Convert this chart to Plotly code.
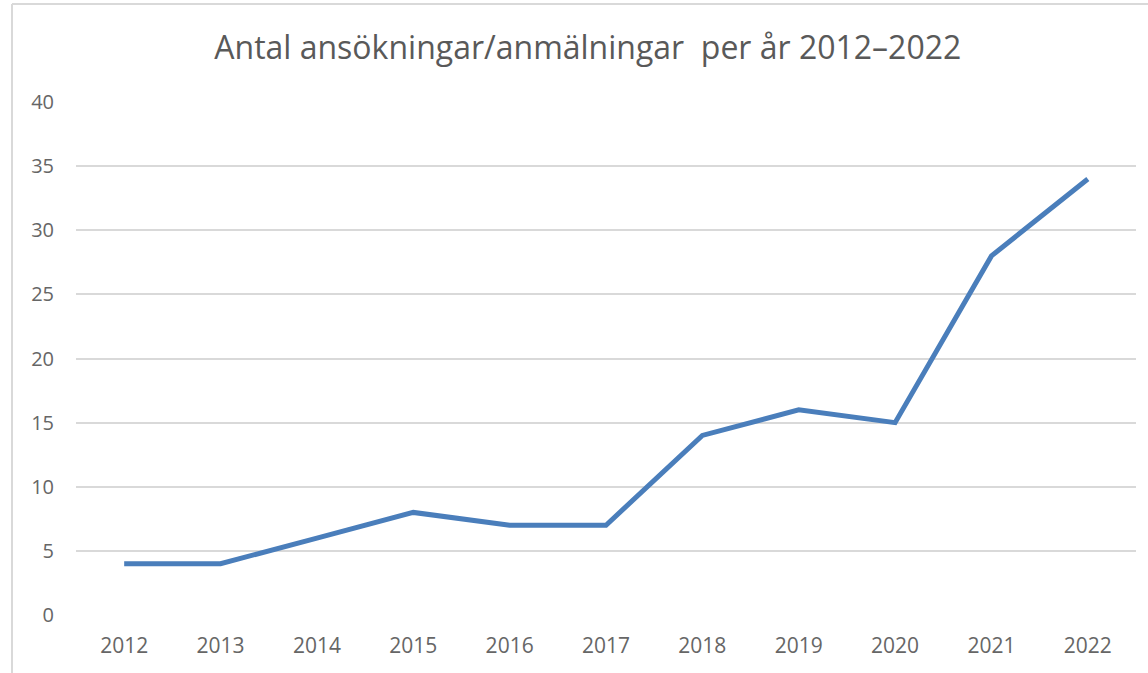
import plotly.graph_objects as go

years = ["2012", "2013", "2014", "2015", "2016", "2017", "2018", "2019", "2020", "2021", "2022"]
counts = [4, 4, 6, 8, 7, 7, 14, 16, 15, 28, 34]
title_text = "Antal ansökningar/anmälningar  per år 2012–2022"

W, H = 1148, 673
L, R, T, B = 76, 12, 102, 58
pw, ph = W - L - R, H - T - B

fig = go.Figure()
fig.add_trace(go.Scatter(
    x=years, y=counts, mode="lines",
    line=dict(color="#4A7EBB", width=5, shape="linear"),
    hoverinfo="x+y", showlegend=False,
))

font_family = "Open Sans, Noto Sans, sans-serif"
fig.update_layout(
    width=W, height=H,
    margin=dict(l=L, r=R, t=T, b=B, autoexpand=False),
    paper_bgcolor="white", plot_bgcolor="white",
    title=dict(text=title_text, x=0.512, xanchor="center", y=1 - 48 / H, yanchor="middle",
               font=dict(family=font_family, size=32, color="#595959")),
    xaxis=dict(type="category", range=[-0.5, 10.5], showgrid=False, zeroline=False, showline=False,
               ticks="", tickfont=dict(family=font_family, size=21, color="#666666"),
               ticklabelstandoff=16, automargin=False),
    yaxis=dict(range=[0, 40], dtick=5, showgrid=True, gridcolor="#D9D9D9", gridwidth=1.5,
               zeroline=False, showline=False, ticks="",
               tickfont=dict(family=font_family, size=20, color="#666666"),
               ticklabelstandoff=21, automargin=False),
    shapes=[
        dict(type="line", xref="paper", yref="paper",
             x0=(12 - L) / pw, x1=(12 - L) / pw, y0=(H - 673 - B) / ph, y1=(H - 4 - B) / ph,
             line=dict(color="#D9D9D9", width=2)),
        dict(type="line", xref="paper", yref="paper",
             x0=(12 - L) / pw, x1=(W - L) / pw, y0=(H - 4 - B) / ph, y1=(H - 4 - B) / ph,
             line=dict(color="#D9D9D9", width=2)),
    ],
)
fig.write_html("out.html", config={"displayModeBar": False},
               post_script="document.body.style.margin='0';document.body.style.overflow='hidden';")
